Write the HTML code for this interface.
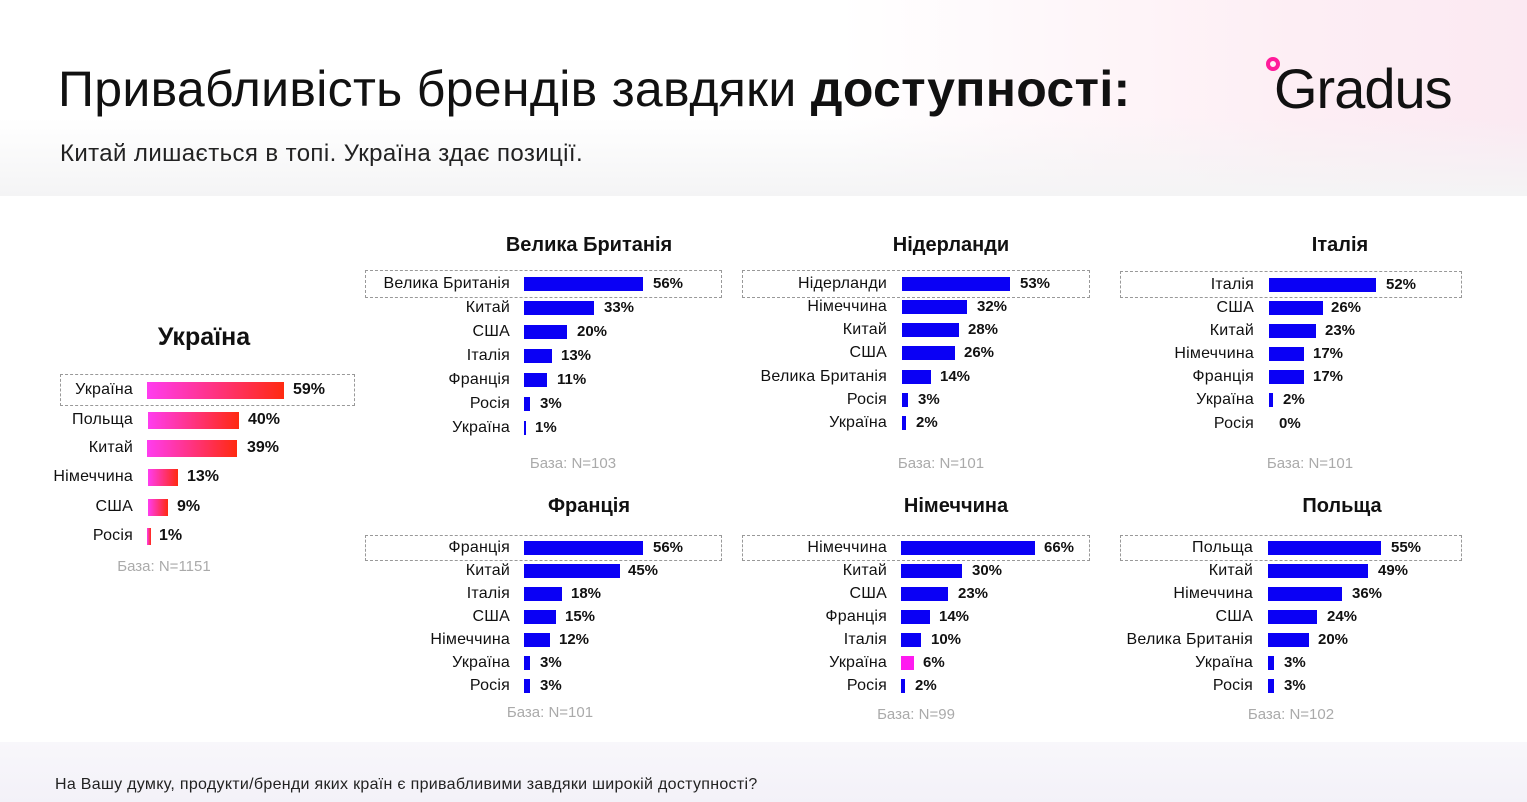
<!DOCTYPE html>
<html><head><meta charset="utf-8">
<style>
*{margin:0;padding:0;box-sizing:border-box}
body{width:1527px;height:802px;position:relative;overflow:hidden;font-family:"Liberation Sans","DejaVu Sans",sans-serif;color:#111;background:#fff}
.hdr{position:absolute;left:0;top:0;width:1527px;height:196px;background:linear-gradient(180deg,rgba(255,255,255,0) 60%,#f4f4f5 100%),linear-gradient(90deg,#fff 0%,#fff 55%,#fdeef4 85%,#fbe9f2 100%)}
.ftr{position:absolute;left:0;top:742px;width:1527px;height:60px;background:linear-gradient(180deg,#f8f7fb,#f3f1f8)}
.a{position:absolute;white-space:nowrap}
.l{position:absolute;text-align:right;font-size:16px;line-height:20px;color:#111;white-space:nowrap;letter-spacing:0.2px}
.v{position:absolute;font-size:15px;font-weight:bold;line-height:20px;white-space:nowrap}
.b{position:absolute;height:14px;background:#0a00f5}
.g{position:absolute;height:17px;background:linear-gradient(90deg,#ff3cf0,#ff2a10)}
.box{position:absolute;border:1px dashed #999}
.t{position:absolute;font-weight:bold;font-size:20px;text-align:center;width:300px}
.base{position:absolute;color:#aaa;font-size:15px;text-align:center;width:200px}
</style></head><body>
<div class="hdr"></div>
<div class="ftr"></div>
<div class="a" style="left:58px;top:58px;font-size:50px;line-height:62px;color:#111;letter-spacing:0.3px">Привабливість брендів завдяки <b>доступності:</b></div>
<div class="a" style="left:60px;top:139px;font-size:24px;line-height:30px;color:#222;letter-spacing:0.4px">Китай лишається в топі. Україна здає позиції.</div>
<div class="a" style="left:1274px;top:56px;font-size:56px;line-height:66px;color:#111;letter-spacing:-1px">Gradus</div>
<div class="a" style="left:1266px;top:57px;width:14px;height:14px;border-radius:50%;border:4px solid #ff1a9a"></div>
<div class="a" style="left:55px;top:775px;font-size:16px;line-height:20px;color:#222;letter-spacing:0.3px">На Вашу думку, продукти/бренди яких країн є привабливими завдяки широкій доступності?</div>

<!-- Ukraine -->
<div class="t" style="left:54px;top:323px;font-size:25px">Україна</div>
<div class="box" style="left:60px;top:374px;width:295px;height:32px"></div>
<div class="l" style="left:0;width:133px;top:380px">Україна</div><div class="g" style="left:147px;top:382px;width:137px"></div><div class="v" style="left:293px;top:380px;font-size:16px">59%</div>
<div class="l" style="left:0;width:133px;top:410px">Польща</div><div class="g" style="left:148px;top:412px;width:91px"></div><div class="v" style="left:248px;top:410px;font-size:16px">40%</div>
<div class="l" style="left:0;width:133px;top:438px">Китай</div><div class="g" style="left:147px;top:440px;width:90px"></div><div class="v" style="left:247px;top:438px;font-size:16px">39%</div>
<div class="l" style="left:0;width:133px;top:467px">Німеччина</div><div class="g" style="left:148px;top:469px;width:30px"></div><div class="v" style="left:187px;top:467px;font-size:16px">13%</div>
<div class="l" style="left:0;width:133px;top:497px">США</div><div class="g" style="left:148px;top:499px;width:20px"></div><div class="v" style="left:177px;top:497px;font-size:16px">9%</div>
<div class="l" style="left:0;width:133px;top:526px">Росія</div><div class="g" style="left:147px;top:528px;width:4px"></div><div class="v" style="left:159px;top:526px;font-size:16px">1%</div>
<div class="base" style="left:64px;top:558px">База: N=1151</div>

<!-- UK -->
<div class="t" style="left:439px;top:234px">Велика Британія</div>
<div class="box" style="left:365px;top:270px;width:357px;height:28px"></div>
<div class="l" style="left:300px;width:210px;top:274px">Велика Британія</div><div class="b" style="left:524px;top:277px;width:119px"></div><div class="v" style="left:653px;top:274px">56%</div>
<div class="l" style="left:300px;width:210px;top:298px">Китай</div><div class="b" style="left:524px;top:301px;width:70px"></div><div class="v" style="left:604px;top:298px">33%</div>
<div class="l" style="left:300px;width:210px;top:322px">США</div><div class="b" style="left:524px;top:325px;width:43px"></div><div class="v" style="left:577px;top:322px">20%</div>
<div class="l" style="left:300px;width:210px;top:346px">Італія</div><div class="b" style="left:524px;top:349px;width:28px"></div><div class="v" style="left:561px;top:346px">13%</div>
<div class="l" style="left:300px;width:210px;top:370px">Франція</div><div class="b" style="left:524px;top:373px;width:23px"></div><div class="v" style="left:557px;top:370px">11%</div>
<div class="l" style="left:300px;width:210px;top:394px">Росія</div><div class="b" style="left:524px;top:397px;width:6px"></div><div class="v" style="left:540px;top:394px">3%</div>
<div class="l" style="left:300px;width:210px;top:418px">Україна</div><div class="b" style="left:524px;top:421px;width:2px"></div><div class="v" style="left:535px;top:418px">1%</div>
<div class="base" style="left:473px;top:455px">База: N=103</div>

<!-- NL -->
<div class="t" style="left:801px;top:234px">Нідерланди</div>
<div class="box" style="left:742px;top:270px;width:348px;height:28px"></div>
<div class="l" style="left:677px;width:210px;top:274px">Нідерланди</div><div class="b" style="left:902px;top:277px;width:108px"></div><div class="v" style="left:1020px;top:274px">53%</div>
<div class="l" style="left:677px;width:210px;top:297px">Німеччина</div><div class="b" style="left:902px;top:300px;width:65px"></div><div class="v" style="left:977px;top:297px">32%</div>
<div class="l" style="left:677px;width:210px;top:320px">Китай</div><div class="b" style="left:902px;top:323px;width:57px"></div><div class="v" style="left:968px;top:320px">28%</div>
<div class="l" style="left:677px;width:210px;top:343px">США</div><div class="b" style="left:902px;top:346px;width:53px"></div><div class="v" style="left:964px;top:343px">26%</div>
<div class="l" style="left:677px;width:210px;top:367px">Велика Британія</div><div class="b" style="left:902px;top:370px;width:29px"></div><div class="v" style="left:940px;top:367px">14%</div>
<div class="l" style="left:677px;width:210px;top:390px">Росія</div><div class="b" style="left:902px;top:393px;width:6px"></div><div class="v" style="left:918px;top:390px">3%</div>
<div class="l" style="left:677px;width:210px;top:413px">Україна</div><div class="b" style="left:902px;top:416px;width:4px"></div><div class="v" style="left:916px;top:413px">2%</div>
<div class="base" style="left:841px;top:455px">База: N=101</div>

<!-- IT -->
<div class="t" style="left:1190px;top:234px">Італія</div>
<div class="box" style="left:1120px;top:271px;width:342px;height:27px"></div>
<div class="l" style="left:1044px;width:210px;top:275px">Італія</div><div class="b" style="left:1269px;top:278px;width:107px"></div><div class="v" style="left:1386px;top:275px">52%</div>
<div class="l" style="left:1044px;width:210px;top:298px">США</div><div class="b" style="left:1269px;top:301px;width:54px"></div><div class="v" style="left:1331px;top:298px">26%</div>
<div class="l" style="left:1044px;width:210px;top:321px">Китай</div><div class="b" style="left:1269px;top:324px;width:47px"></div><div class="v" style="left:1325px;top:321px">23%</div>
<div class="l" style="left:1044px;width:210px;top:344px">Німеччина</div><div class="b" style="left:1269px;top:347px;width:35px"></div><div class="v" style="left:1313px;top:344px">17%</div>
<div class="l" style="left:1044px;width:210px;top:367px">Франція</div><div class="b" style="left:1269px;top:370px;width:35px"></div><div class="v" style="left:1313px;top:367px">17%</div>
<div class="l" style="left:1044px;width:210px;top:390px">Україна</div><div class="b" style="left:1269px;top:393px;width:4px"></div><div class="v" style="left:1283px;top:390px">2%</div>
<div class="l" style="left:1044px;width:210px;top:414px">Росія</div><div class="v" style="left:1279px;top:414px">0%</div>
<div class="base" style="left:1210px;top:455px">База: N=101</div>

<!-- FR -->
<div class="t" style="left:439px;top:495px">Франція</div>
<div class="box" style="left:365px;top:535px;width:357px;height:26px"></div>
<div class="l" style="left:300px;width:210px;top:538px">Франція</div><div class="b" style="left:524px;top:541px;width:119px"></div><div class="v" style="left:653px;top:538px">56%</div>
<div class="l" style="left:300px;width:210px;top:561px">Китай</div><div class="b" style="left:524px;top:564px;width:96px"></div><div class="v" style="left:628px;top:561px">45%</div>
<div class="l" style="left:300px;width:210px;top:584px">Італія</div><div class="b" style="left:524px;top:587px;width:38px"></div><div class="v" style="left:571px;top:584px">18%</div>
<div class="l" style="left:300px;width:210px;top:607px">США</div><div class="b" style="left:524px;top:610px;width:32px"></div><div class="v" style="left:565px;top:607px">15%</div>
<div class="l" style="left:300px;width:210px;top:630px">Німеччина</div><div class="b" style="left:524px;top:633px;width:26px"></div><div class="v" style="left:559px;top:630px">12%</div>
<div class="l" style="left:300px;width:210px;top:653px">Україна</div><div class="b" style="left:524px;top:656px;width:6px"></div><div class="v" style="left:540px;top:653px">3%</div>
<div class="l" style="left:300px;width:210px;top:676px">Росія</div><div class="b" style="left:524px;top:679px;width:6px"></div><div class="v" style="left:540px;top:676px">3%</div>
<div class="base" style="left:450px;top:704px">База: N=101</div>

<!-- DE -->
<div class="t" style="left:806px;top:495px">Німеччина</div>
<div class="box" style="left:742px;top:535px;width:348px;height:26px"></div>
<div class="l" style="left:677px;width:210px;top:538px">Німеччина</div><div class="b" style="left:901px;top:541px;width:134px"></div><div class="v" style="left:1044px;top:538px">66%</div>
<div class="l" style="left:677px;width:210px;top:561px">Китай</div><div class="b" style="left:901px;top:564px;width:61px"></div><div class="v" style="left:972px;top:561px">30%</div>
<div class="l" style="left:677px;width:210px;top:584px">США</div><div class="b" style="left:901px;top:587px;width:47px"></div><div class="v" style="left:958px;top:584px">23%</div>
<div class="l" style="left:677px;width:210px;top:607px">Франція</div><div class="b" style="left:901px;top:610px;width:29px"></div><div class="v" style="left:939px;top:607px">14%</div>
<div class="l" style="left:677px;width:210px;top:630px">Італія</div><div class="b" style="left:901px;top:633px;width:20px"></div><div class="v" style="left:931px;top:630px">10%</div>
<div class="l" style="left:677px;width:210px;top:653px">Україна</div><div class="b" style="left:901px;top:656px;width:13px;background:#ff1af0"></div><div class="v" style="left:923px;top:653px">6%</div>
<div class="l" style="left:677px;width:210px;top:676px">Росія</div><div class="b" style="left:901px;top:679px;width:4px"></div><div class="v" style="left:915px;top:676px">2%</div>
<div class="base" style="left:816px;top:706px">База: N=99</div>

<!-- PL -->
<div class="t" style="left:1192px;top:495px">Польща</div>
<div class="box" style="left:1120px;top:535px;width:342px;height:26px"></div>
<div class="l" style="left:1043px;width:210px;top:538px">Польща</div><div class="b" style="left:1268px;top:541px;width:113px"></div><div class="v" style="left:1391px;top:538px">55%</div>
<div class="l" style="left:1043px;width:210px;top:561px">Китай</div><div class="b" style="left:1268px;top:564px;width:100px"></div><div class="v" style="left:1378px;top:561px">49%</div>
<div class="l" style="left:1043px;width:210px;top:584px">Німеччина</div><div class="b" style="left:1268px;top:587px;width:74px"></div><div class="v" style="left:1352px;top:584px">36%</div>
<div class="l" style="left:1043px;width:210px;top:607px">США</div><div class="b" style="left:1268px;top:610px;width:49px"></div><div class="v" style="left:1327px;top:607px">24%</div>
<div class="l" style="left:1043px;width:210px;top:630px">Велика Британія</div><div class="b" style="left:1268px;top:633px;width:41px"></div><div class="v" style="left:1318px;top:630px">20%</div>
<div class="l" style="left:1043px;width:210px;top:653px">Україна</div><div class="b" style="left:1268px;top:656px;width:6px"></div><div class="v" style="left:1284px;top:653px">3%</div>
<div class="l" style="left:1043px;width:210px;top:676px">Росія</div><div class="b" style="left:1268px;top:679px;width:6px"></div><div class="v" style="left:1284px;top:676px">3%</div>
<div class="base" style="left:1191px;top:706px">База: N=102</div>
</body></html>
